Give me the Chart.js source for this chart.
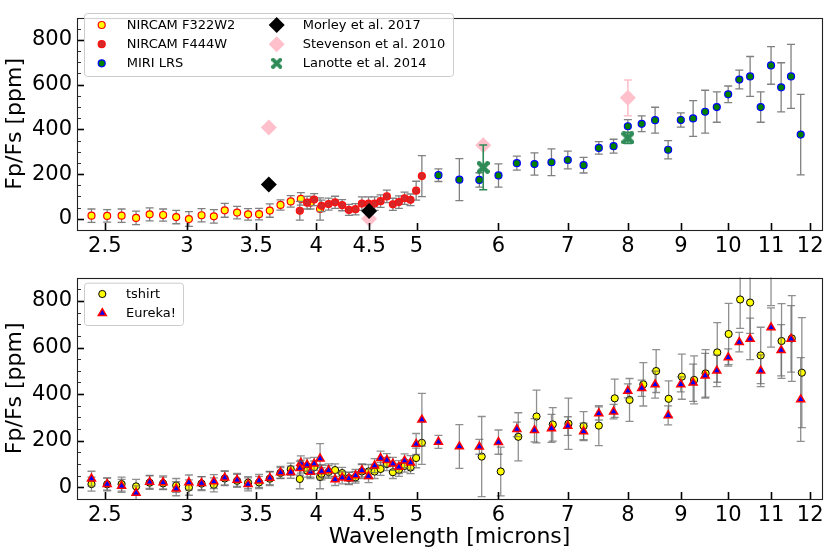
<!DOCTYPE html>
<html>
<head>
<meta charset="utf-8">
<script src="https://cdn.jsdelivr.net/npm/chart.js@4.4.1/dist/chart.umd.min.js"></script>
<style>
  html,body{margin:0;padding:0;background:#fff;}
  #wrap{position:relative;width:831px;height:556px;background:#fff;overflow:hidden;}
  .pane{position:absolute;left:0;width:831px;}
</style>
</head>
<body>
<div id="wrap">
  <div class="pane" style="top:0;height:260px"><canvas id="c1"></canvas></div>
  <div class="pane" style="top:260px;height:296px"><canvas id="c2"></canvas></div>
</div>
<script>
// ---------------- DATA ----------------
const X_TICKS = [2.5, 3, 3.5, 4, 4.5, 5, 6, 7, 8, 9, 10, 11, 12];
const Y_TICKS = [0, 200, 400, 600, 800];

// NIRCam F322W2
const F322_X = [2.427, 2.513, 2.595, 2.680, 2.762, 2.846, 2.930, 3.014, 3.100, 3.186, 3.264, 3.355, 3.438, 3.523, 3.608, 3.695, 3.780, 3.866, 3.950, 4.035];
const F322_TSHIRT = [14, 13, 14, 4, 20, 17, 8, -1, 16, 11, 38, 28, 20, 21, 37, 62, 78, 89, 72, 44];
const F322_TSHIRT_ERR = [30, 28, 30, 30, 29, 27, 30, 33, 30, 30, 31, 28, 26, 26, 30, 23, 26, 28, 28, 50];
const F322_EUREKA = [37, 14, 6, -24, 23, 21, -6, 21, 18, 25, 41, 32, 13, 28, 40, 64, 65, 105, 66, 123];
const F322_EUREKA_ERR = [32, 26, 28, 30, 28, 28, 30, 32, 28, 30, 30, 28, 28, 28, 28, 26, 26, 30, 28, 65];

// NIRCam F444W
const F444_X = [3.857, 3.920, 3.982, 4.048, 4.112, 4.172, 4.238, 4.302, 4.366, 4.428, 4.494, 4.555, 4.616, 4.681, 4.744, 4.808, 4.869, 4.934, 4.996, 5.060];
const F444_TSHIRT = [36, 72, 86, 58, 66, 74, 61, 40, 43, 68, 68, 68, 79, 100, 65, 75, 92, 85, 126, 191];
const F444_TSHIRT_ERR = [42, 28, 27, 26, 27, 27, 25, 25, 25, 30, 30, 30, 28, 28, 27, 28, 27, 26, 42, 92];
const F444_EUREKA = [82, 97, 101, 69, 73, 34, 41, 38, 51, 73, 48, 93, 125, 117, 101, 87, 114, 106, 186, 290];
const F444_EUREKA_ERR = [30, 28, 28, 28, 28, 26, 26, 26, 26, 28, 28, 30, 30, 28, 28, 28, 30, 30, 45, 113];

// MIRI LRS
const MIRI_X = [5.25, 5.50, 5.75, 6.00, 6.25, 6.50, 6.75, 7.00, 7.25, 7.50, 7.75, 8.00, 8.25, 8.50, 8.75, 9.00, 9.25, 9.50, 9.75, 10.00, 10.25, 10.50, 10.75, 11.00, 11.25, 11.50, 11.75];
const MIRI_EUREKA = [195, 175, 174, 194, 249, 245, 253, 263, 240, 317, 325, 414, 425, 441, 309, 442, 449, 479, 500, 557, 623, 637, 500, 686, 588, 637, 377];
const MIRI_EUREKA_ERR = [28, 94, 32, 52, 31, 50, 60, 40, 35, 28, 31, 30, 35, 58, 41, 32, 80, 96, 68, 37, 42, 89, 68, 84, 110, 143, 180];
const MIRI_TSHIRT_X = [5.78, 6.03, 6.27, 6.53, 6.77, 7.01, 7.25, 7.50, 7.77, 8.03, 8.28, 8.52, 8.76, 9.02, 9.27, 9.51, 9.76, 10.01, 10.27, 10.50, 10.75, 11.00, 11.26, 11.52, 11.78];
const MIRI_TSHIRT = [132, 68, 217, 304, 270, 273, 263, 265, 382, 375, 442, 499, 380, 475, 461, 489, 579, 658, 806, 793, 566, 950, 628, 639, 492];
const MIRI_TSHIRT_ERR = [172, 105, 103, 113, 72, 110, 62, 86, 82, 92, 93, 92, 77, 97, 103, 102, 128, 131, 124, 132, 121, 170, 160, 184, 236];

// Literature
const MORLEY_X = [3.6, 4.5];
const MORLEY_Y = [153, 35];
const MORLEY_ERR = [12, 12];
const STEV_X = [3.6, 4.5, 5.8, 8.0];
const STEV_Y = [408, 0, 329, 541];
const STEV_ERR = [12, 15, 10, 80];
const LAN_X = [5.8, 8.0];
const LAN_Y = [230, 362];
const LAN_ERR = [100, 25];

// ---------------- HELPERS ----------------
const pts = (xs, ys) => xs.map((x, i) => ({x: x, y: ys[i]}));

function makeXMarker(size, color) {
  const c = document.createElement('canvas');
  c.width = size; c.height = size;
  const g = c.getContext('2d');
  g.fillStyle = color;
  g.translate(size / 2, size / 2);
  const L = size * 0.62, t = size * 0.17;
  for (const a of [Math.PI / 4, -Math.PI / 4]) {
    g.save(); g.rotate(a); g.fillRect(-L, -t, 2 * L, 2 * t); g.restore();
  }
  return c;
}
const X_MARK = makeXMarker(13, '#2E8B57');
const X_MARK_LEG = makeXMarker(11, '#2E8B57');

function drawMarker(ctx, st, x, y) {
  ctx.save();
  ctx.fillStyle = st.fill; ctx.strokeStyle = st.stroke; ctx.lineWidth = st.bw || 0;
  const r = st.r;
  if (st.img) {
    ctx.drawImage(st.img, x - st.img.width / 2, y - st.img.height / 2);
    ctx.restore(); return;
  }
  ctx.beginPath();
  if (st.shape === 'circle') ctx.arc(x, y, r, 0, Math.PI * 2);
  else if (st.shape === 'rectRot') { ctx.moveTo(x, y - r); ctx.lineTo(x + r, y); ctx.lineTo(x, y + r); ctx.lineTo(x - r, y); ctx.closePath(); }
  else if (st.shape === 'triangle') {
    for (let k = 0; k < 3; k++) {
      const a = k * 2 * Math.PI / 3;
      const px = x + Math.sin(a) * r, py = y - Math.cos(a) * r;
      if (k === 0) ctx.moveTo(px, py); else ctx.lineTo(px, py);
    }
    ctx.closePath();
  }
  ctx.fill();
  if (st.bw) ctx.stroke();
  ctx.restore();
}

const errorBarPlugin = {
  id: 'errbars',
  beforeDatasetDraw(chart, args) {
    const ds = chart.data.datasets[args.index];
    if (!ds.errs) return;
    const ys = chart.scales.y, area = chart.chartArea, ctx = chart.ctx;
    ctx.save();
    ctx.beginPath();
    ctx.rect(area.left, area.top, area.right - area.left, area.bottom - area.top);
    ctx.clip();
    ctx.strokeStyle = ds.errColor || '#808080';
    ctx.globalAlpha = ds.errAlpha || 1;
    ctx.lineWidth = ds.errWidth || 1.3;
    const cap = ds.errCap || 4;
    args.meta.data.forEach((el, i) => {
      const v = ds.data[i].y, e = ds.errs[i];
      const y1 = ys.getPixelForValue(v - e), y2 = ys.getPixelForValue(v + e);
      const px = el.x;
      ctx.beginPath();
      ctx.moveTo(px, y1); ctx.lineTo(px, y2);
      ctx.moveTo(px - cap, y1); ctx.lineTo(px + cap, y1);
      ctx.moveTo(px - cap, y2); ctx.lineTo(px + cap, y2);
      ctx.stroke();
    });
    ctx.restore();
  }
};

const framePlugin = {
  id: 'frame',
  afterDatasetsDraw(chart) {
    const ctx = chart.ctx, a = chart.chartArea, xs = chart.scales.x, ys = chart.scales.y;
    ctx.save();
    ctx.strokeStyle = '#000';
    ctx.lineWidth = 1.6;
    X_TICKS.forEach(v => {
      const px = Math.round(xs.getPixelForValue(v)) + 0.5;
      ctx.beginPath(); ctx.moveTo(px, a.bottom); ctx.lineTo(px, a.bottom - 7); ctx.stroke();
    });
    for (let v = -50; v <= 900; v += 50) {
      const py = Math.round(ys.getPixelForValue(v)) + 0.5;
      const major = Y_TICKS.includes(v);
      ctx.lineWidth = major ? 1.6 : 1;
      ctx.strokeStyle = major ? '#000' : '#333';
      ctx.beginPath(); ctx.moveTo(a.left, py); ctx.lineTo(a.left + (major ? 7 : 4), py); ctx.stroke();
    }
    ctx.strokeStyle = '#222';
    ctx.lineWidth = 1.1;
    ctx.strokeRect(Math.round(a.left) + 0.5, Math.round(a.top) + 0.5, Math.round(a.right - a.left), Math.round(a.bottom - a.top));
    ctx.restore();
  },
  afterDraw(chart) {
    const lg = chart.options.plugins.mplLegend;
    if (!lg) return;
    const ctx = chart.ctx;
    ctx.save();
    const [bx, by, bw, bh] = lg.box;
    ctx.beginPath();
    if (ctx.roundRect) ctx.roundRect(bx + 0.5, by + 0.5, bw, bh, 3); else ctx.rect(bx + 0.5, by + 0.5, bw, bh);
    ctx.fillStyle = 'rgba(255,255,255,0.8)';
    ctx.fill();
    ctx.strokeStyle = '#cccccc';
    ctx.lineWidth = 1;
    ctx.stroke();
    ctx.font = '13px "DejaVu Sans"';
    ctx.textBaseline = 'middle';
    ctx.textAlign = 'left';
    lg.items.forEach(it => {
      drawMarker(ctx, it.marker, it.mx, it.y);
      ctx.fillStyle = '#000';
      ctx.fillText(it.text, it.tx, it.y + 0.5);
    });
    ctx.restore();
  }
};

Chart.defaults.font.family = '"DejaVu Sans", sans-serif';
Chart.defaults.color = '#000';

function scales(withXTitle) {
  return {
    x: {
      type: 'logarithmic',
      min: 2.35, max: 12.32,
      grid: {display: false, drawTicks: false},
      border: {display: false},
      afterBuildTicks: s => { s.ticks = X_TICKS.map(v => ({value: v})); },
      afterFit: s => { s.height = withXTitle ? 57 : 30; },
      ticks: {
        autoSkip: false, maxRotation: 0, minRotation: 0, padding: 4,
        font: {size: 21},
        callback: v => String(v)
      },
      title: withXTitle ? {display: true, text: 'Wavelength [microns]', font: {size: 22}, padding: {top: 0, bottom: 6}} : {display: false}
    },
    y: {
      type: 'linear',
      min: -50, max: 900,
      grid: {display: false, drawTicks: false},
      border: {display: false},
      afterBuildTicks: s => { s.ticks = Y_TICKS.map(v => ({value: v})); },
      afterFit: s => { s.width = 77; },
      ticks: {padding: 5, font: {size: 21}, callback: v => String(v)},
      title: {display: true, text: 'Fp/Fs [ppm]', font: {size: 22}, padding: {top: 2, bottom: 0}}
    }
  };
}

const baseOpts = {
  responsive: true,
  maintainAspectRatio: false,
  animation: false,
  events: [],
  plugins: {legend: {display: false}, tooltip: {enabled: false}}
};

// ---------------- TOP PANEL ----------------
const stF322 = {shape: 'circle', r: 3.5, fill: '#FFFF00', stroke: '#FF0000', bw: 1.2};
const stF444 = {shape: 'circle', r: 3.5, fill: '#D62728', stroke: '#FF1010', bw: 1.2};
const stMIRI = {shape: 'circle', r: 3.5, fill: '#008000', stroke: '#0000FF', bw: 1.2};
const stMorley = {shape: 'rectRot', r: 8, fill: '#000000', stroke: '#000000', bw: 0};
const stStev = {shape: 'rectRot', r: 8, fill: '#FFC0CB', stroke: '#FFC0CB', bw: 0};
const stLan = {img: X_MARK_LEG};

function ds(label, data, errs, st, order, extra) {
  return Object.assign({
    label: label, data: data, errs: errs,
    showLine: false,
    pointStyle: st.img ? st.img : st.shape,
    pointRadius: st.r || 6,
    pointBackgroundColor: st.fill,
    pointBorderColor: st.stroke,
    pointBorderWidth: st.bw || 0,
    backgroundColor: st.fill,
    borderColor: st.stroke,
    order: order
  }, extra || {});
}

new Chart(document.getElementById('c1'), {
  type: 'scatter',
  data: {
    datasets: [
      ds('NIRCAM F322W2', pts(F322_X, F322_TSHIRT), F322_TSHIRT_ERR, stF322, 60, {errColor: '#808080'}),
      ds('NIRCAM F444W', pts(F444_X, F444_TSHIRT), F444_TSHIRT_ERR, stF444, 50, {errColor: '#808080'}),
      ds('MIRI LRS', pts(MIRI_X, MIRI_EUREKA), MIRI_EUREKA_ERR, stMIRI, 40, {errColor: '#808080'}),
      ds('Stevenson et al. 2010', pts(STEV_X, STEV_Y), STEV_ERR, stStev, 30, {errColor: '#FFC0CB', errWidth: 1.6}),
      ds('Morley et al. 2017', pts(MORLEY_X, MORLEY_Y), MORLEY_ERR, stMorley, 20, {errColor: '#000000', errWidth: 1.6}),
      ds('Lanotte et al. 2014', pts(LAN_X, LAN_Y), LAN_ERR, {img: X_MARK}, 10, {errColor: '#2E8B57', errWidth: 1.6})
    ]
  },
  options: Object.assign({}, baseOpts, {
    layout: {padding: {top: 7, right: 9, left: 0, bottom: 0}},
    scales: scales(false),
    plugins: Object.assign({}, baseOpts.plugins, {
      mplLegend: {
        box: [84, 13, 369, 63],
        items: [
          {text: 'NIRCAM F322W2', marker: stF322, mx: 101.7, tx: 126.7, y: 25},
          {text: 'NIRCAM F444W', marker: stF444, mx: 101.7, tx: 126.7, y: 44.2},
          {text: 'MIRI LRS', marker: stMIRI, mx: 101.7, tx: 126.7, y: 63.3},
          {text: 'Morley et al. 2017', marker: stMorley, mx: 276.7, tx: 302.7, y: 25},
          {text: 'Stevenson et al. 2010', marker: stStev, mx: 276.7, tx: 302.7, y: 44.2},
          {text: 'Lanotte et al. 2014', marker: stLan, mx: 276.7, tx: 302.7, y: 63.3}
        ]
      }
    })
  }),
  plugins: [errorBarPlugin, framePlugin]
});

// ---------------- BOTTOM PANEL ----------------
const stTshirt = {shape: 'circle', r: 3.6, fill: '#FFFF00', stroke: '#000000', bw: 1};
const stEureka = {shape: 'triangle', r: 4.6, fill: '#0000FF', stroke: '#FF0000', bw: 1.5};

new Chart(document.getElementById('c2'), {
  type: 'scatter',
  data: {
    datasets: [
      ds('tshirt F322W2', pts(F322_X, F322_TSHIRT), F322_TSHIRT_ERR, stTshirt, 60, {errColor: '#606060', errAlpha: 0.7}),
      ds('tshirt F444W', pts(F444_X, F444_TSHIRT), F444_TSHIRT_ERR, stTshirt, 55, {errColor: '#606060', errAlpha: 0.7}),
      ds('tshirt MIRI', pts(MIRI_TSHIRT_X, MIRI_TSHIRT), MIRI_TSHIRT_ERR, stTshirt, 50, {errColor: '#606060', errAlpha: 0.7}),
      ds('Eureka F322W2', pts(F322_X, F322_EUREKA), F322_EUREKA_ERR, stEureka, 40, {errColor: '#606060', errAlpha: 0.7}),
      ds('Eureka F444W', pts(F444_X, F444_EUREKA), F444_EUREKA_ERR, stEureka, 35, {errColor: '#606060', errAlpha: 0.7}),
      ds('Eureka MIRI', pts(MIRI_X, MIRI_EUREKA), MIRI_EUREKA_ERR, stEureka, 30, {errColor: '#606060', errAlpha: 0.7})
    ]
  },
  options: Object.assign({}, baseOpts, {
    layout: {padding: {top: 15, right: 9, left: 0, bottom: 0}},
    scales: scales(true),
    plugins: Object.assign({}, baseOpts.plugins, {
      mplLegend: {
        box: [84, 22.7, 99, 42.3],
        items: [
          {text: 'tshirt', marker: stTshirt, mx: 102.3, tx: 126, y: 34},
          {text: 'Eureka!', marker: stEureka, mx: 102.3, tx: 126, y: 53.3}
        ]
      }
    })
  }),
  plugins: [errorBarPlugin, framePlugin]
});
</script>
</body>
</html>
